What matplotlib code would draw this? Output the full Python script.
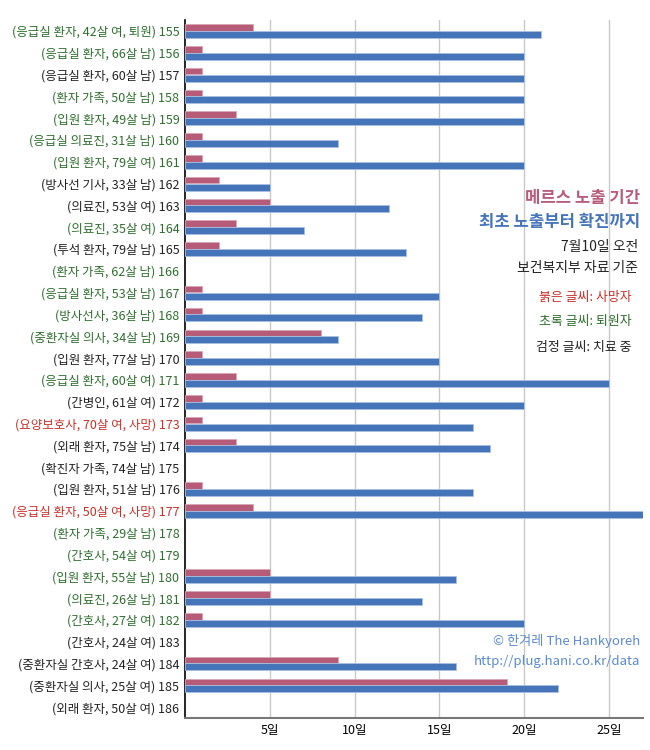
import numpy as np
import matplotlib
matplotlib.use("Agg")
import matplotlib.pyplot as plt

plt.rcParams['font.family'] = ['Noto Sans CJK KR', 'DejaVu Sans']

# patients 155-186
labels = ['(응급실 환자, 42살 여, 퇴원) 155', '(응급실 환자, 66살 남) 156', '(응급실 환자, 60살 남) 157',
          '(환자 가족, 50살 남) 158', '(입원 환자, 49살 남) 159', '(응급실 의료진, 31살 남) 160',
          '(입원 환자, 79살 여) 161', '(방사선 기사, 33살 남) 162', '(의료진, 53살 여) 163',
          '(의료진, 35살 여) 164', '(투석 환자, 79살 남) 165', '(환자 가족, 62살 남) 166',
          '(응급실 환자, 53살 남) 167', '(방사선사, 36살 남) 168', '(중환자실 의사, 34살 남) 169',
          '(입원 환자, 77살 남) 170', '(응급실 환자, 60살 여) 171', '(간병인, 61살 여) 172',
          '(요양보호사, 70살 여, 사망) 173', '(외래 환자, 75살 남) 174', '(확진자 가족, 74살 남) 175',
          '(입원 환자, 51살 남) 176', '(응급실 환자, 50살 여, 사망) 177', '(환자 가족, 29살 남) 178',
          '(간호사, 54살 여) 179', '(입원 환자, 55살 남) 180', '(의료진, 26살 남) 181',
          '(간호사, 27살 여) 182', '(간호사, 24살 여) 183', '(중환자실 간호사, 24살 여) 184',
          '(중환자실 의사, 25살 여) 185', '(외래 환자, 50살 여) 186']
# g = 퇴원, r = 사망, k = 치료 중
status = ['g', 'g', 'k', 'g', 'g', 'g', 'g', 'k', 'k', 'g', 'k', 'g', 'g', 'g', 'g', 'k',
          'g', 'k', 'r', 'k', 'k', 'k', 'r', 'g', 'g', 'g', 'g', 'g', 'k', 'k', 'k', 'k']
exposure = [4, 1, 1, 1, 3, 1, 1, 2, 5, 3, 2, 0, 1, 1, 8, 1,
            3, 1, 1, 3, 0, 1, 4, 0, 0, 5, 5, 1, 0, 9, 19, 0]
to_confirm = [21, 20, 20, 20, 20, 9, 20, 5, 12, 7, 13, 0, 15, 14, 9, 15,
              25, 20, 17, 18, 0, 17, 27, 0, 0, 16, 14, 20, 0, 16, 22, 0]

colors = {'g': '#2f6e2f', 'r': '#c8302a', 'k': '#222222'}
red = '#b65b78'
blue = '#4674b9'

fig = plt.figure(figsize=(6.5, 7.5), dpi=100)
ax = fig.add_axes([185/650, 1-718/750, (643-185)/650, (718-20)/750])

y = np.arange(len(labels))
exp = np.array(exposure)
conf = np.array(to_confirm)
m1 = exp > 0
m2 = conf > 0
ax.barh(y[m1] - 0.16, exp[m1], height=0.3, color=red, edgecolor='#d9a5b6', linewidth=0.6, zorder=3)
ax.barh(y[m2] + 0.16, conf[m2], height=0.32, color=blue, edgecolor='#a9c0e3', linewidth=0.6, zorder=3)

ax.set_ylim(len(labels) - 0.5, -0.5)
ax.set_xlim(0, 27)
ax.set_yticks(y)
ax.set_yticklabels(labels, fontsize=9)
for t, s in zip(ax.get_yticklabels(), status):
    t.set_color(colors[s])
ax.set_xticks([5, 10, 15, 20, 25])
ax.set_xticklabels([f'{v}일' for v in [5, 10, 15, 20, 25]], fontsize=9)
ax.tick_params(length=0, pad=4)
ax.grid(axis='x', color='#c8c8c8', linewidth=1, zorder=0)
for s in ['top', 'right']:
    ax.spines[s].set_visible(False)
ax.spines['left'].set_color('black')
ax.spines['left'].set_linewidth(1.2)
ax.spines['bottom'].set_color('#777777')
ax.spines['bottom'].set_linewidth(1.5)


def px(x, yp):
    return x / 650, 1 - yp / 750

fig.text(*px(640, 198), '메르스 노출 기간', color=red, fontsize=12, fontweight='bold', ha='right', va='center')
fig.text(*px(640, 222), '최초 노출부터 확진까지', color=blue, fontsize=12, fontweight='bold', ha='right', va='center')
fig.text(*px(638, 247), '7월10일 오전', color='#222222', fontsize=10, ha='right', va='center')
fig.text(*px(638, 268), '보건복지부 자료 기준', color='#222222', fontsize=10, ha='right', va='center')
fig.text(*px(632, 297), '붉은 글씨: 사망자', color=colors['r'], fontsize=9.3, ha='right', va='center')
fig.text(*px(632, 322), '초록 글씨: 퇴원자', color=colors['g'], fontsize=9.3, ha='right', va='center')
fig.text(*px(632, 347), '검정 글씨: 치료 중', color='#222222', fontsize=9.3, ha='right', va='center')

fig.text(*px(640, 641), '© 한겨레 The Hankyoreh', color='#5b8ad0', fontsize=9.5, ha='right', va='center')
fig.text(*px(640, 662), 'http://plug.hani.co.kr/data', color='#5b8ad0', fontsize=9.5, ha='right', va='center')

fig.savefig('out.png', dpi=100)
